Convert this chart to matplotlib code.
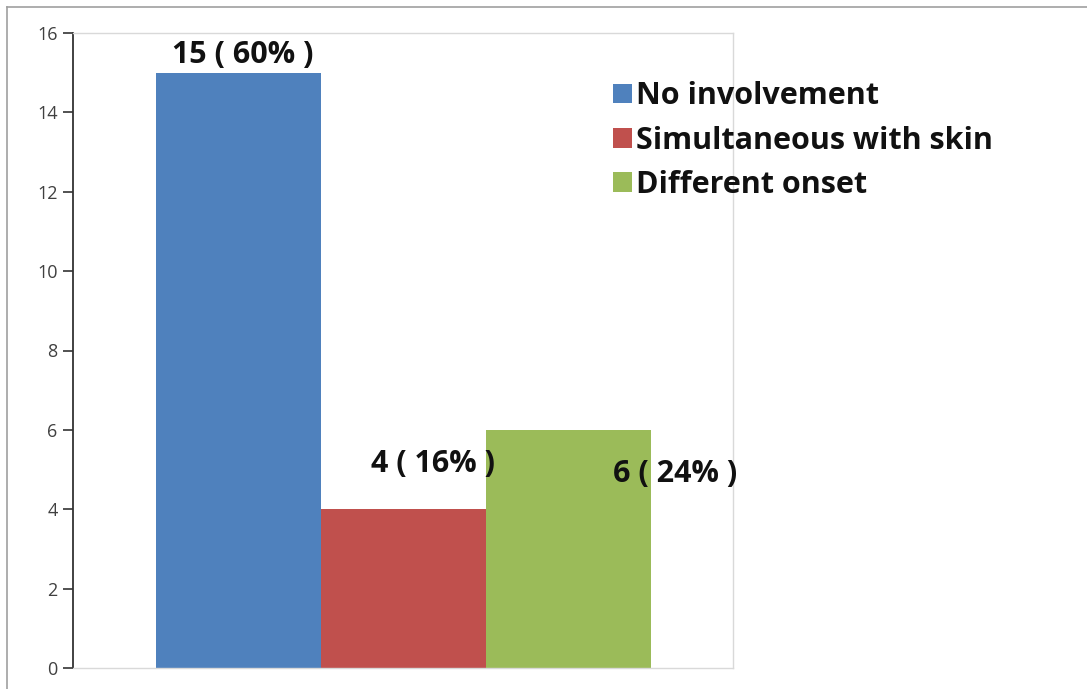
import matplotlib
matplotlib.use("Agg")
import matplotlib.pyplot as plt
from matplotlib.lines import Line2D
from matplotlib.patches import Patch

categories = ["No involvement", "Simultaneous with skin", "Different onset"]
values = [15, 4, 6]
labels = ["15 ( 60% )", "4 ( 16% )", "6 ( 24% )"]
colors = ["#4f81bd", "#c0504d", "#9bbb59"]
yticks = [0, 2, 4, 6, 8, 10, 12, 14, 16]

plt.rcParams['font.family'] = ['Open Sans', 'DejaVu Sans']

fig = plt.figure(figsize=(10.87, 6.89), dpi=100)
ax = fig.add_axes([73/1087, 1-668/689, (733-73)/1087, (668-33)/689])

width = 0.25
offsets = [-0.25, 0.0, 0.25]
bars = ax.bar(offsets, values, width=width, color=colors, edgecolor='none', zorder=2)

ax.set_xlim(-0.5, 0.5)
ax.set_ylim(0, 16)
ax.set_yticks(yticks)
ax.set_xticks([])
ax.tick_params(axis='y', direction='out', length=7, width=1.2, color='#333333',
               labelsize=13, labelcolor='#404040', pad=4)
ax.spines['left'].set_color('#333333')
ax.spines['left'].set_linewidth(1.3)
for s in ['top', 'right', 'bottom']:
    ax.spines[s].set_color('#d9d9d9')
    ax.spines[s].set_linewidth(1.0)

# data labels (offsets in pixels relative to bar top center)
label_offsets = [(5, 3, 'bottom'), (30, 45, 'center'), (107, -44, 'center')]
for b, lab, (dx, dy, va) in zip(bars, labels, label_offsets):
    ax.annotate(lab, (b.get_x() + b.get_width()/2, b.get_height()),
                xytext=(dx, dy), textcoords='offset pixels',
                ha='center', va=va, fontsize=22, fontweight='bold', color='#111111',
                zorder=5)

handles = [Patch(facecolor=c, edgecolor='none') for c in colors]
leg = fig.legend(handles, categories, loc='upper left',
                 bbox_to_anchor=(601/1087, 1-69/689), frameon=False,
                 fontsize=22, handlelength=0.6, handleheight=0.6,
                 handletextpad=0.15, labelspacing=0.47, borderaxespad=0)
for t in leg.get_texts():
    t.set_fontweight('bold')
    t.set_color('#111111')

# outer figure border
fig.add_artist(Line2D([7/1087, 1], [1-7/689, 1-7/689], transform=fig.transFigure,
                      color='#a0a0a0', lw=1.2))
fig.add_artist(Line2D([7/1087, 7/1087], [0, 1-7/689], transform=fig.transFigure,
                      color='#a0a0a0', lw=1.2))

fig.savefig("out.png", dpi=100, facecolor='white')
